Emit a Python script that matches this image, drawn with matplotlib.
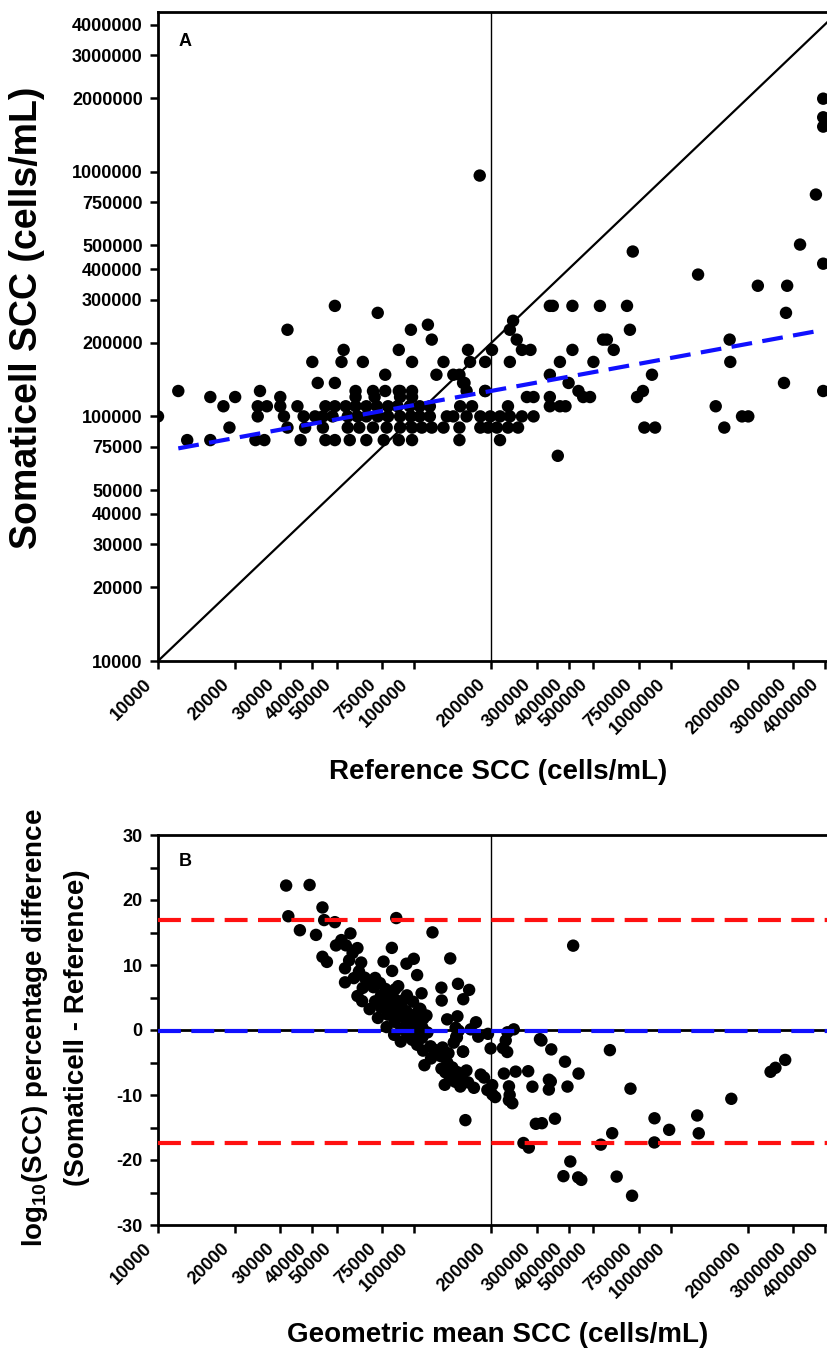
import numpy as np
import matplotlib
matplotlib.use('Agg')
import matplotlib.pyplot as plt
from matplotlib.ticker import NullLocator
from matplotlib.transforms import ScaledTranslation

plt.rcParams['font.family'] = ['Liberation Sans', 'DejaVu Sans']
plt.rcParams['font.weight'] = 'bold'
plt.rcParams['axes.unicode_minus'] = False
plt.rcParams['mathtext.fontset'] = 'custom'
plt.rcParams['mathtext.rm'] = 'Liberation Sans:bold'
plt.rcParams['mathtext.bf'] = 'Liberation Sans:bold'

# tick values shared by both log axes
scc_ticks = [10000, 20000, 30000, 40000, 50000, 75000, 100000, 200000, 300000,
             400000, 500000, 750000, 1000000, 2000000, 3000000, 4000000]
diff_ticks = [-30, -20, -10, 0, 10, 20, 30]

# Panel A: reference SCC vs Somaticell SCC (cells/mL)
ref_scc = [
    # scattered points
    10000, 12000, 13000, 16000, 16000, 18000, 19000, 20000, 25000, 24500,
    26600, 24500, 24000, 26000, 30000, 30000, 31000, 32000, 32000, 35000,
    36000, 37500, 40000, 42000, 49000, 52000, 53000, 49000, 72000, 63000,
    59000, 69000, 77000, 87000, 87000, 97000, 98000, 113000, 117000, 122000,
    130000, 142000, 150000, 157000, 160000, 162000, 165000, 180000, 189000, 201000,
    189000, 236000, 243000, 236000, 251000, 263000, 284000,
    # 80000 row
    45000, 49000, 56000, 65000, 76000, 87000, 98000, 150000, 216000,
    # 90000 row
    44000, 55000, 61000, 69000, 78000, 88000, 98000, 107000, 117000, 130000,
    150000, 181000, 194000, 210000, 232000, 254000, 790000, 870000, 1620000,
    # 100000 row
    37000, 41000, 44000, 48000, 55000, 60000, 65000, 72000, 79000, 88000,
    97000, 105000, 115000, 134000, 142000, 160000, 181000, 198000, 216000, 236000,
    263000, 292000, 1900000, 2010000,
    # 110000 row
    45000, 49000, 54000, 59000, 65000, 71500, 79000, 86000, 96000, 105000,
    115000, 151000, 168000, 232000, 338000, 370000, 389000, 1500000,
    # 120000 row
    59000, 70000, 88000, 98000, 275000, 292000, 338000, 456000, 485000, 740000,
    # 127000 row
    77000, 88000, 98000, 189000, 437000, 780000, 3940000,
    # 137000 - 283000 rows
    155000, 400000, 2770000, 338000, 846000, 370000, 500000, 1710000,
    414000, 600000, 545000, 564000, 1700000, 694000, 2820000,
    338000, 347000, 414000, 530000, 676000,
    # high values
    363000, 712000, 1280000, 2190000, 2850000, 3200000, 3690000,
    3940000, 3940000, 3940000, 3940000,
]
somaticell_scc = [
    100000, 127000, 80000, 120000, 80000, 110000, 90000, 120000, 127000, 110000,
    110000, 100000, 80000, 80000, 120000, 110000, 100000, 90000, 226000, 110000,
    80000, 90000, 167000, 137000, 137000, 167000, 187000, 283000, 265000, 167000,
    127000, 127000, 148000, 187000, 127000, 226000, 167000, 237000, 206000, 148000,
    167000, 148000, 148000, 137000, 127000, 187000, 167000, 965000, 167000, 187000,
    127000, 167000, 246000, 226000, 206000, 187000, 187000,
    80000, 80000, 80000, 80000, 80000, 80000, 80000, 80000, 80000,
    90000, 90000, 90000, 90000, 90000, 90000, 90000, 90000, 90000, 90000,
    90000, 90000, 90000, 90000, 90000, 90000, 90000, 90000, 90000,
    100000, 100000, 100000, 100000, 100000, 100000, 100000, 100000, 100000, 100000,
    100000, 100000, 100000, 100000, 100000, 100000, 100000, 100000, 100000, 100000,
    100000, 100000, 100000, 100000,
    110000, 110000, 110000, 110000, 110000, 110000, 110000, 110000, 110000, 110000,
    110000, 110000, 110000, 110000, 110000, 110000, 110000, 110000,
    120000, 120000, 120000, 120000, 120000, 120000, 120000, 120000, 120000, 120000,
    127000, 127000, 127000, 127000, 127000, 127000, 127000,
    137000, 137000, 137000, 148000, 148000, 167000, 167000, 167000,
    187000, 187000, 206000, 206000, 206000, 226000, 265000,
    283000, 283000, 283000, 283000, 283000,
    69000, 472000, 380000, 342000, 342000, 504000, 807000,
    1990000, 1670000, 1530000, 421000,
]

# dashed regression line in panel A (end points)
fit_x = [12000, 3800000]
fit_y = [74000, 224000]

cutoff = 200000  # vertical reference line
mean_diff = -0.2
loa_upper = 16.9
loa_lower = -17.4

ref = np.array(ref_scc, dtype=float)
som = np.array(somaticell_scc, dtype=float)
# Bland-Altman on log10 scale
geo_mean = np.sqrt(ref * som)
pct_diff = (np.log10(som) - np.log10(ref)) / ((np.log10(som) + np.log10(ref)) / 2) * 100

fig = plt.figure(figsize=(8.28, 13.52), dpi=100)
W, H = 828, 1352
ax1 = fig.add_axes([158 / W, 1 - 661 / H, 680 / W, 649 / H])
ax2 = fig.add_axes([158 / W, 1 - 1225 / H, 680 / W, 390 / H])

xmin, xmax = 10000, 4500000
labels = [str(t) for t in scc_ticks]
shift = ScaledTranslation(-6 / 72, -4 / 72, fig.dpi_scale_trans)

for ax in (ax1, ax2):
    ax.set_xscale('log')
    ax.set_xlim(xmin, xmax)
    ax.set_xticks(scc_ticks)
    ax.set_xticklabels(labels, rotation=45, ha='right', va='center',
                       rotation_mode='anchor', fontsize=13, fontweight='bold')
    ax.xaxis.set_minor_locator(NullLocator())
    ax.tick_params(axis='both', which='major', direction='out', length=6,
                   width=1.8, labelsize=13, pad=5)
    # nudge the rotated labels so their ends sit under the ticks
    for lab in ax.get_xticklabels():
        lab.set_transform(lab.get_transform() + shift)
    for side in ('left', 'bottom', 'top'):
        ax.spines[side].set_linewidth(2.0)
    ax.spines['right'].set_visible(False)
    ax.axvline(cutoff, color='black', lw=1.0, zorder=1)

# Panel A
ax1.set_yscale('log')
ax1.set_ylim(10000, 4500000)
ax1.set_yticks(scc_ticks)
ax1.set_yticklabels(labels, fontsize=13, fontweight='bold')
ax1.yaxis.set_minor_locator(NullLocator())
ax1.plot([xmin, xmax], [xmin, xmax], color='black', lw=1.6, zorder=1)
ax1.scatter(ref, som, s=80, color='black', edgecolors='none', zorder=3)
ax1.plot(fit_x, fit_y, color='#1010ff', lw=3, linestyle=(0, (5, 2.5)), zorder=4)
ax1.text(0.03, 0.968, 'A', transform=ax1.transAxes, fontsize=13,
         fontweight='bold', va='top')

# Panel B
ax2.set_ylim(-30, 30)
ax2.set_yticks(diff_ticks)
ax2.set_yticks([-25, -15, -5, 5, 15, 25], minor=True)
ax2.tick_params(axis='y', which='minor', direction='out', length=6, width=1.8)
ax2.axhline(0, color='black', lw=2.0, zorder=1)
ax2.scatter(geo_mean, pct_diff, s=80, color='black', edgecolors='none', zorder=3)
ax2.axhline(mean_diff, color='#1010ff', lw=3, linestyle=(0, (5.5, 2.5)), zorder=4)
for v in (loa_upper, loa_lower):
    ax2.axhline(v, color='#ff1010', lw=3, linestyle=(0, (5.5, 2.5)), zorder=4)
ax2.text(0.03, 0.955, 'B', transform=ax2.transAxes, fontsize=13,
         fontweight='bold', va='top')

# axis titles
fig.text(27 / W, 1 - 318 / H, 'Somaticell SCC (cells/mL)', rotation=90,
         fontsize=27, fontweight='bold', ha='center', va='center')
fig.text(498 / W, 1 - 772 / H, 'Reference SCC (cells/mL)',
         fontsize=20, fontweight='bold', ha='center', va='center')
fig.text(35 / W, 1 - 1028 / H, r'log$_{\mathbf{10}}$(SCC) percentage difference',
         rotation=90, fontsize=20, fontweight='bold', ha='center', va='center')
fig.text(77 / W, 1 - 1028 / H, '(Somaticell - Reference)', rotation=90,
         fontsize=20, fontweight='bold', ha='center', va='center')
fig.text(498 / W, 1 - 1335 / H, 'Geometric mean SCC (cells/mL)',
         fontsize=20, fontweight='bold', ha='center', va='center')

fig.savefig('out.png', dpi=100)
